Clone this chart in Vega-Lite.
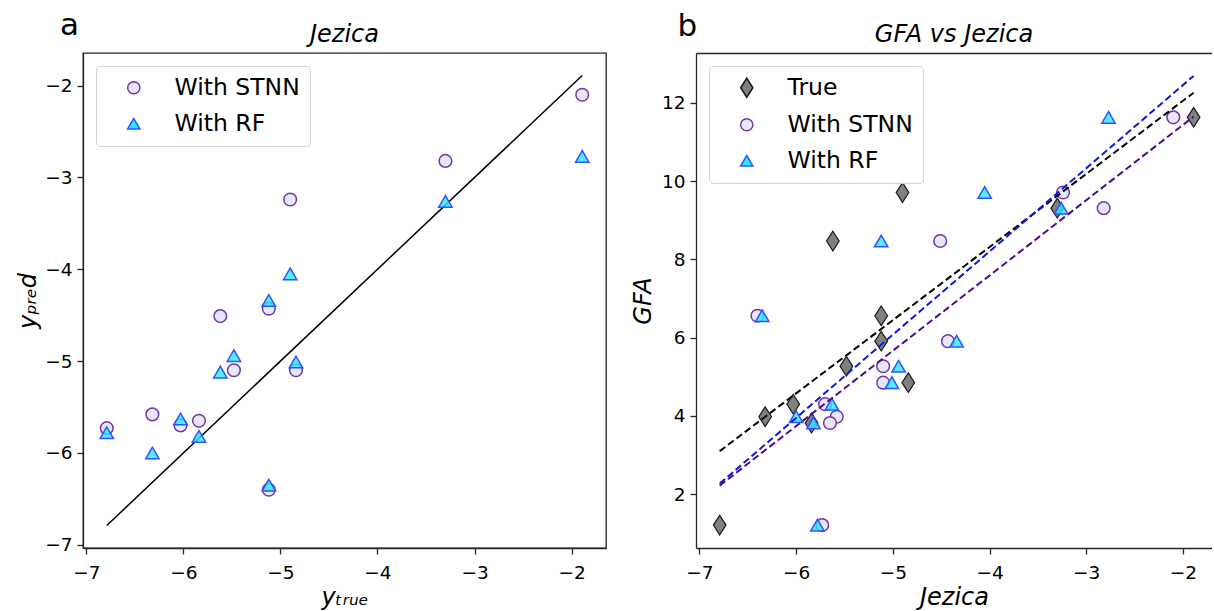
{
  "$schema": "https://vega.github.io/schema/vega-lite/v6.json",
  "padding": {"left": 16, "top": 10, "right": 0, "bottom": 0},
  "spacing": 24,
  "config": {
    "font": "DejaVu Sans",
    "view": {"stroke": "#262626", "strokeWidth": 1.3},
    "axis": {"grid": false, "domainColor": "#262626", "domainWidth": 1.3, "tickColor": "#262626", "tickWidth": 1.3, "tickSize": 6, "labelFontSize": 18.5, "labelColor": "#000000", "labelPadding": 9, "titleFontSize": 24, "titleFontWeight": "normal", "titleFontStyle": "italic", "titleColor": "#000000", "labelFlush": false, "labelOverlap": false, "format": "d"},
    "title": {"fontSize": 24, "fontWeight": "normal", "fontStyle": "italic", "color": "#000000", "offset": 6},
    "legend": {"orient": "top-left", "offset": 13, "padding": 10, "fillColor": "rgba(255,255,255,0.85)", "strokeColor": "#d3d3d3", "cornerRadius": 4, "labelFontSize": 23.5, "labelColor": "#000000", "symbolSize": 150, "symbolStrokeWidth": 1.5, "rowPadding": 11, "symbolOffset": 16, "labelOffset": 29, "title": null, "labelLimit": 0}
  },
  "datasets": {
    "pts": [
      {"True": -6.79, "GFA": 1.21, "With STNN": -5.73, "With RF": -5.78},
      {"True": -6.32, "GFA": 3.98, "With STNN": -5.58, "With RF": -6.00},
      {"True": -6.03, "GFA": 4.30, "With STNN": -5.70, "With RF": -5.63},
      {"True": -5.84, "GFA": 3.82, "With STNN": -5.65, "With RF": -5.82},
      {"True": -5.62, "GFA": 8.47, "With STNN": -4.51, "With RF": -5.12},
      {"True": -5.48, "GFA": 5.27, "With STNN": -5.10, "With RF": -4.94},
      {"True": -5.12, "GFA": 6.56, "With STNN": -6.40, "With RF": -6.35},
      {"True": -5.12, "GFA": 5.91, "With STNN": -4.43, "With RF": -4.34},
      {"True": -4.90, "GFA": 9.71, "With STNN": -3.24, "With RF": -4.05},
      {"True": -4.84, "GFA": 4.85, "With STNN": -5.10, "With RF": -5.01},
      {"True": -3.30, "GFA": 9.31, "With STNN": -2.82, "With RF": -3.26},
      {"True": -1.89, "GFA": 11.63, "With STNN": -2.10, "With RF": -2.77}
    ],
    "ident": [
      {"True": -6.79, "pred": -6.79},
      {"True": -1.89, "pred": -1.89}
    ],
    "fits": [
      {"fit": "True", "x": -6.79, "GFA": 3.10},
      {"fit": "True", "x": -1.89, "GFA": 12.26},
      {"fit": "With STNN", "x": -6.79, "GFA": 2.22},
      {"fit": "With STNN", "x": -1.89, "GFA": 11.65},
      {"fit": "With RF", "x": -6.79, "GFA": 2.27},
      {"fit": "With RF", "x": -1.89, "GFA": 12.69}
    ]
  },
  "resolve": {
    "scale": {"shape": "independent", "fill": "independent", "stroke": "independent"},
    "legend": {"shape": "independent", "fill": "independent", "stroke": "independent"}
  },
  "hconcat": [
    {
      "title": {"text": "a", "anchor": "start", "fontSize": 31, "fontStyle": "normal", "offset": -20, "dx": 44},
      "vconcat": [
        {
          "title": "Jezica",
          "width": 523,
          "height": 495,
          "layer": [
            {
              "data": {"name": "ident"},
              "mark": {"type": "line", "color": "#000000", "strokeWidth": 1.5},
              "encoding": {
                "x": {"field": "True", "type": "quantitative", "scale": {"domain": [-7.035, -1.645], "nice": false, "zero": false}, "axis": {"title": "yₜᵣᵤₑ", "values": [-7, -6, -5, -4, -3, -2]}},
                "y": {"field": "pred", "type": "quantitative", "scale": {"domain": [-7.035, -1.645], "nice": false, "zero": false}, "axis": {"title": "yₚᵣₑd", "values": [-7, -6, -5, -4, -3, -2], "labelPadding": 5, "titlePadding": 4}}
              }
            },
            {
              "data": {"name": "pts"},
              "transform": [{"fold": ["With STNN"], "as": ["series", "pred"]}],
              "mark": {"type": "point", "filled": true, "size": 160, "strokeWidth": 1.5, "opacity": 1},
              "encoding": {
                "x": {"field": "True", "type": "quantitative"},
                "y": {"field": "pred", "type": "quantitative"},
                "shape": {"field": "series", "type": "nominal", "scale": {"domain": ["With STNN", "With RF"], "range": ["circle", "triangle-up"]}},
                "fill": {"field": "series", "type": "nominal", "scale": {"domain": ["With STNN", "With RF"], "range": ["#e8e6f8", "#2ae8ff"]}},
                "stroke": {"field": "series", "type": "nominal", "scale": {"domain": ["With STNN", "With RF"], "range": ["#7038a8", "#2f55ff"]}}
              }
            },
            {
              "data": {"name": "pts"},
              "transform": [{"fold": ["With RF"], "as": ["series", "pred"]}],
              "mark": {"type": "point", "filled": true, "size": 180, "strokeWidth": 1.5, "opacity": 1, "fillOpacity": 0.8},
              "encoding": {
                "x": {"field": "True", "type": "quantitative"},
                "y": {"field": "pred", "type": "quantitative"},
                "shape": {"field": "series", "type": "nominal"},
                "fill": {"field": "series", "type": "nominal"},
                "stroke": {"field": "series", "type": "nominal"}
              }
            }
          ]
        }
      ]
    },
    {
      "title": {"text": "b", "anchor": "start", "fontSize": 31, "fontStyle": "normal", "offset": -20, "dx": 46},
      "vconcat": [
        {
          "title": "GFA vs Jezica",
          "width": 516,
          "height": 495,
          "view": {"stroke": null},
          "resolve": {"axis": {"x": "independent"}},
          "layer": [
            {
              "data": {"name": "pts"},
              "transform": [{"fold": ["True"], "as": ["series", "x"]}],
              "mark": {"type": "point", "filled": true, "size": 160, "strokeWidth": 1.2, "opacity": 1},
              "encoding": {
                "x": {"field": "x", "type": "quantitative", "scale": {"domain": [-7.035, -1.70], "nice": false, "zero": false}, "axis": {"title": "Jezica", "values": [-7, -6, -5, -4, -3, -2]}},
                "y": {"field": "GFA", "type": "quantitative", "scale": {"domain": [0.625, 13.275], "nice": false, "zero": false}, "axis": {"title": "GFA", "values": [2, 4, 6, 8, 10, 12], "labelPadding": 5, "titlePadding": 6}},
                "shape": {"field": "series", "type": "nominal", "scale": {"domain": ["True", "With STNN", "With RF"], "range": ["M0,-1.55L1,0L0,1.55L-1,0Z", "circle", "triangle-up"]}},
                "fill": {"field": "series", "type": "nominal", "scale": {"domain": ["True", "With STNN", "With RF"], "range": ["#808080", "#e8e6f8", "#2ae8ff"]}},
                "stroke": {"field": "series", "type": "nominal", "scale": {"domain": ["True", "With STNN", "With RF"], "range": ["#1a1a1a", "#7038a8", "#2f55ff"]}}
              }
            },
            {
              "data": {"name": "pts"},
              "transform": [{"fold": ["With STNN"], "as": ["series", "x"]}],
              "mark": {"type": "point", "filled": true, "size": 160, "strokeWidth": 1.5, "opacity": 1},
              "encoding": {
                "x": {"field": "x", "type": "quantitative", "axis": null},
                "y": {"field": "GFA", "type": "quantitative"},
                "shape": {"field": "series", "type": "nominal"},
                "fill": {"field": "series", "type": "nominal"},
                "stroke": {"field": "series", "type": "nominal"}
              }
            },
            {
              "data": {"name": "pts"},
              "transform": [{"fold": ["With RF"], "as": ["series", "x"]}],
              "mark": {"type": "point", "filled": true, "size": 180, "strokeWidth": 1.5, "opacity": 1, "fillOpacity": 0.8},
              "encoding": {
                "x": {"field": "x", "type": "quantitative", "axis": null},
                "y": {"field": "GFA", "type": "quantitative"},
                "shape": {"field": "series", "type": "nominal"},
                "fill": {"field": "series", "type": "nominal"},
                "stroke": {"field": "series", "type": "nominal"}
              }
            },
            {
              "data": {"name": "fits"},
              "transform": [{"filter": "datum.fit === 'True'"}],
              "mark": {"type": "line", "color": "#000000", "strokeWidth": 2, "strokeDash": [7, 3.5]},
              "encoding": {
                "x": {"field": "x", "type": "quantitative", "axis": {"orient": "top", "labels": false, "ticks": false, "title": null, "domain": true}},
                "y": {"field": "GFA", "type": "quantitative"}
              }
            },
            {
              "data": {"name": "fits"},
              "transform": [{"filter": "datum.fit === 'With STNN'"}],
              "mark": {"type": "line", "color": "#4b0a8c", "strokeWidth": 2, "strokeDash": [7, 3.5]},
              "encoding": {
                "x": {"field": "x", "type": "quantitative", "axis": null},
                "y": {"field": "GFA", "type": "quantitative"}
              }
            },
            {
              "data": {"name": "fits"},
              "transform": [{"filter": "datum.fit === 'With RF'"}],
              "mark": {"type": "line", "color": "#0a1adc", "strokeWidth": 2, "strokeDash": [7, 3.5]},
              "encoding": {
                "x": {"field": "x", "type": "quantitative", "axis": null},
                "y": {"field": "GFA", "type": "quantitative"}
              }
            }
          ]
        }
      ]
    }
  ]
}
